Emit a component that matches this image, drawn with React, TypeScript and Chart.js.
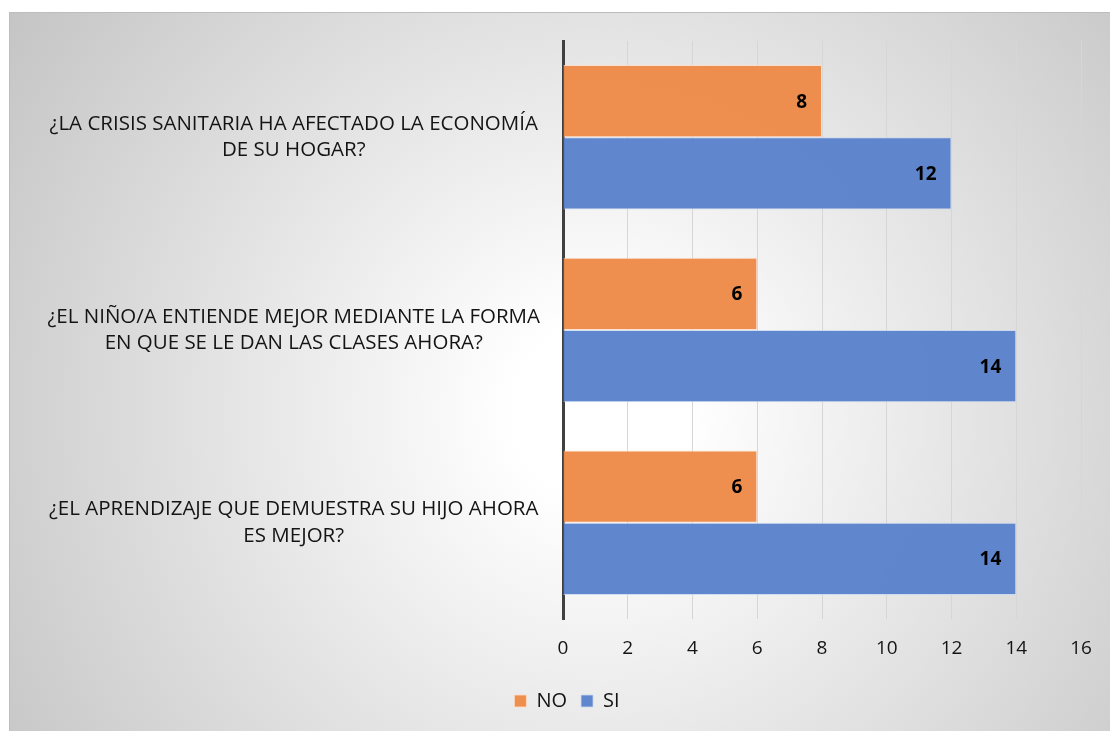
import React, { useEffect, useRef } from "react";
import { Chart, registerables } from "chart.js";

Chart.register(...registerables);

const categories: string[][] = [
  ["¿LA CRISIS SANITARIA HA AFECTADO LA ECONOMÍA", "DE SU HOGAR?"],
  ["¿EL NIÑO/A ENTIENDE MEJOR MEDIANTE LA FORMA", "EN QUE SE LE DAN LAS CLASES AHORA?"],
  ["¿EL APRENDIZAJE QUE DEMUESTRA SU HIJO AHORA", "ES MEJOR?"],
];
const seriesNames = ["NO", "SI"];
const noValues = [8, 6, 6];
const siValues = [12, 14, 14];
const xTicks = [0, 2, 4, 6, 8, 10, 12, 14, 16];

const FONT = "'Open Sans', Lato, sans-serif";

const backgroundPlugin = {
  id: "bgGradient",
  beforeDraw(chart: any) {
    const { ctx, width, height } = chart;
    ctx.save();
    const g = ctx.createRadialGradient(591, 400, 0, 591, 400, 720);
    g.addColorStop(0, "#ffffff");
    g.addColorStop(0.12, "#ffffff");
    g.addColorStop(1, "#c4c4c4");
    ctx.fillStyle = g;
    ctx.fillRect(0, 0, width, height);
    ctx.strokeStyle = "#bdbdbd";
    ctx.lineWidth = 1;
    ctx.strokeRect(0.5, 0.5, width, height);
    ctx.restore();
  },
};

const legendShiftPlugin = {
  id: "legendShift",
  afterLayout(chart: any) {
    if (chart.legend) {
      chart.legend.left += 22;
      chart.legend.right += 22;
      if (chart.legend.adjustHitBoxes) chart.legend.adjustHitBoxes();
    }
  },
};

const valueLabelPlugin = {
  id: "valueLabels",
  afterDatasetsDraw(chart: any) {
    const { ctx } = chart;
    ctx.save();
    ctx.font = `bold 19px ${FONT}`;
    ctx.fillStyle = "#000000";
    ctx.textAlign = "right";
    ctx.textBaseline = "middle";
    chart.data.datasets.forEach((ds: any, i: number) => {
      const meta = chart.getDatasetMeta(i);
      meta.data.forEach((bar: any, j: number) => {
        ctx.fillText(String(ds.data[j]), bar.x - 15, bar.y + 1);
      });
    });
    ctx.restore();
  },
};

export default function App() {
  const ref = useRef<HTMLCanvasElement>(null);
  useEffect(() => {
    if (!ref.current) return;
    const chart = new Chart(ref.current, {
      type: "bar",
      data: {
        labels: categories,
        datasets: [
          {
            label: seriesNames[0],
            data: noValues,
            backgroundColor: "rgba(237,138,72,0.96)",
            borderColor: "rgba(255,220,200,0.8)",
            borderWidth: 1,
            categoryPercentage: 0.75,
            barPercentage: 1,
          },
          {
            label: seriesNames[1],
            data: siValues,
            backgroundColor: "rgba(90,130,204,0.96)",
            borderColor: "rgba(200,215,240,0.8)",
            borderWidth: 1,
            categoryPercentage: 0.75,
            barPercentage: 1,
          },
        ],
      },
      options: {
        indexAxis: "y",
        animation: false,
        responsive: true,
        maintainAspectRatio: false,
        layout: { padding: { left: 0, right: 29, top: 29, bottom: 10 } },
        scales: {
          x: {
            min: 0,
            max: 16,
            afterBuildTicks: (scale: any) => {
              scale.ticks = xTicks.map((v) => ({ value: v }));
            },
            grid: { color: "#d6d6d6", lineWidth: 1, drawTicks: false },
            border: { display: false },
            ticks: {
              padding: 18,
              color: "#141414",
              font: { family: FONT, size: 19 },
            },
            afterFit: (scale: any) => {
              scale.height = 58;
            },
          },
          y: {
            grid: { display: false },
            border: { display: true, color: "#404040", width: 3 },
            ticks: {
              crossAlign: "center",
              padding: 15,
              color: "#141414",
              font: { family: FONT, size: 20.5, lineHeight: 1.27 },
            },
            afterFit: (scale: any) => {
              scale.width = 554;
              scale.paddingTop = 0;
              scale.paddingBottom = 0;
            },
          },
        },
        plugins: {
          legend: {
            position: "bottom",
            labels: {
              boxWidth: 12,
              boxHeight: 12,
              color: "#141414",
              font: { family: FONT, size: 20 },
              padding: 14,
            },
          },
          tooltip: { enabled: false },
        },
      },
      plugins: [backgroundPlugin, legendShiftPlugin, valueLabelPlugin],
    } as any);
    return () => chart.destroy();
  }, []);
  return (
    <div style={{ position: "fixed", left: 9, top: 12, width: 1101, height: 719 }}>
      <canvas ref={ref} />
    </div>
  );
}
